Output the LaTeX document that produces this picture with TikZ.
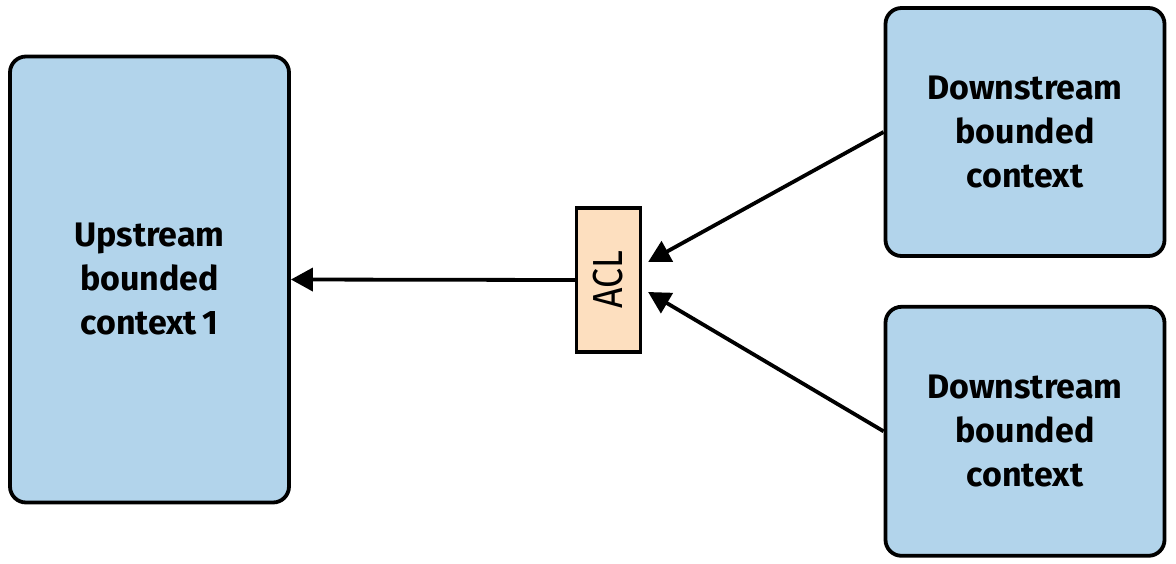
\documentclass[tikz,border=0pt]{standalone}
\usepackage{fontspec}
\setmainfont{Fira Sans}
\newfontfamily\aclfont{Fira Sans}[FakeStretch=0.85]
\usepackage{tikz}
\usetikzlibrary{arrows.meta, positioning, calc}
\definecolor{ctxblue}{HTML}{B2D4EB}
\definecolor{aclorange}{HTML}{FDDFBF}

\begin{document}
\begin{tikzpicture}[x=1pt, y=-1pt, align=center,
  ctx/.style={draw, line width=3.8pt, rounded corners=16pt, fill=ctxblue, minimum width=279pt,
    font=\fontsize{34}{44}\selectfont\bfseries},
  aclbox/.style={draw, line width=3.2pt, fill=aclorange, minimum width=64pt, minimum height=144pt},
  link/.style={-{Triangle[length=22pt, width=23pt]}, line width=3.8pt}]
  \useasboundingbox (0,0) rectangle (1176,563);
  \node (up) [ctx, minimum height=446pt] at (149.5,279.5) {Upstream\\bounded\\context\,1};
  \node (acl) [aclbox] at (608.5,280) {};
  \node [rotate=90, font=\aclfont\fontsize{42}{44}\selectfont] at (acl.center) {ACL};
  \node (downA) [ctx, minimum height=248pt] at (1025,132) {Downstream\\bounded\\context};
  \node (downB) [ctx, minimum height=249pt, below=47pt of downA] {Downstream\\bounded\\context};

  \draw [link] (acl.west) -- (up.east);
  \draw [link] (downA.west) -- ($(acl.east)+(6,-18)$);
  \draw [link] (downB.west) -- ($(acl.east)+(6,12)$);
\end{tikzpicture}
\end{document}
